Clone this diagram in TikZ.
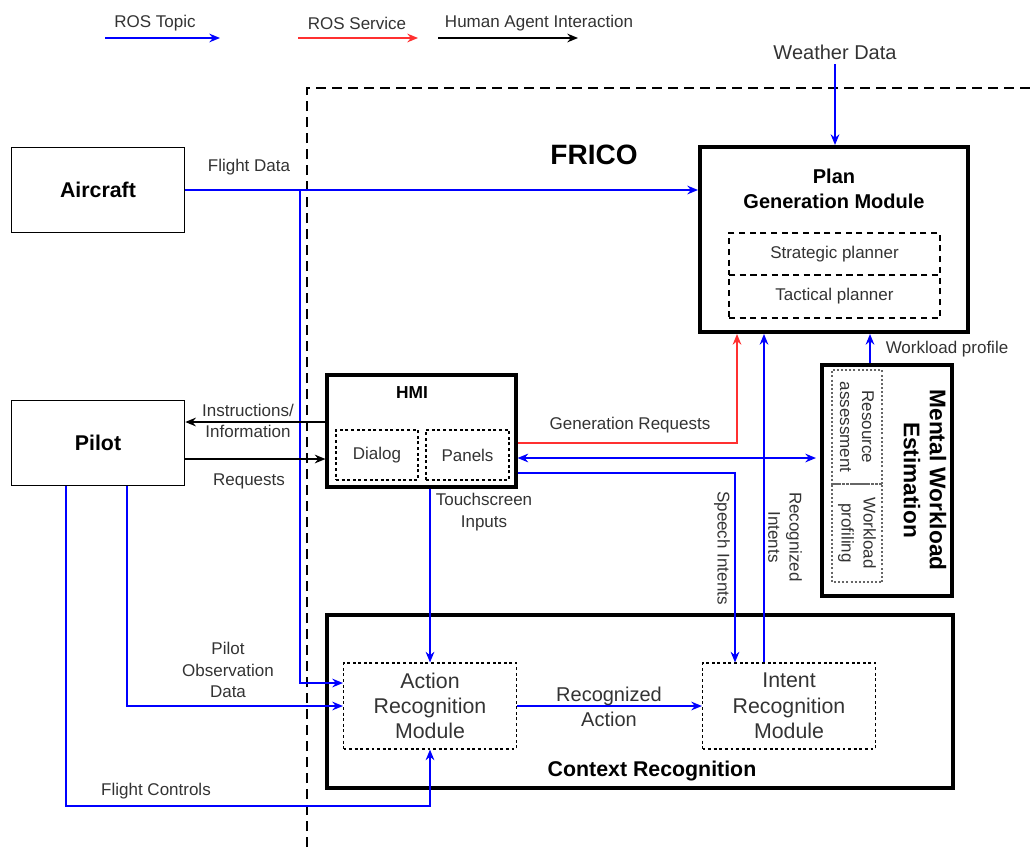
\documentclass[tikz,border=0pt]{standalone}
\usepackage{fontspec}
\setmainfont{Liberation Sans}
\usetikzlibrary{arrows.meta}
\definecolor{ink}{HTML}{333333}
\definecolor{topicblue}{HTML}{0000FF}
\definecolor{servicered}{HTML}{FF3030}

\begin{document}
\begin{tikzpicture}[x=0.75pt, y=-0.75pt, >={Stealth[length=8pt,width=6.5pt]},
    topic/.style={->, draw=topicblue, line width=1.5pt},
    service/.style={->, draw=servicered, line width=1.5pt},
    hai/.style={->, draw=black, line width=1.4pt},
    sz/.style 2 args={minimum width=#1*0.75pt, minimum height=#2*0.75pt, inner sep=0pt},
    box/.style={draw, line width=1.1pt},
    bigbox/.style={draw, line width=3pt},
    dashbox/.style={draw, line width=0.9pt, dash pattern=on 4.5pt off 3.5pt},
    finebox/.style={draw, line width=0.8pt, dash pattern=on 2.2pt off 2pt},
    dotbox/.style={draw=black!60, line width=1.5pt, dash pattern=on 1.5pt off 1.6pt},
    lbl/.style={font=\fontsize{12.75}{16}\selectfont, text=ink, align=center},
    modlbl/.style={font=\fontsize{16}{19}\selectfont, text=ink, align=center},
    title/.style={font=\fontsize{16}{19}\selectfont\bfseries, align=center},
]
    \useasboundingbox (0,0) rectangle (1031,847);

    % Legenda
    \node[lbl] (lgtopic) at (155,23) {ROS Topic};
    \node[lbl] (lgservice) at (357,23) {ROS Service};
    \node[lbl] (lghai) at (539,23) {Human Agent Interaction};
    \coordinate (lt1) at (105,38); \coordinate (lt2) at (220,38);
    \coordinate (ls1) at (298,38); \coordinate (ls2) at (418,38);
    \coordinate (lh1) at (438,38); \coordinate (lh2) at (578,38);
    \draw[topic] (lt1) -- (lt2);
    \draw[service] (ls1) -- (ls2);
    \draw[hai] (lh1) -- (lh2);

    % Confine FRICO (tratteggio)
    \draw[black, line width=1.1pt, dash pattern=on 7.5pt off 4.5pt] (307,847) |- (1031,88);
    \node[font=\fontsize{21}{25}\selectfont\bfseries] (frico) at (594,155) {FRICO};

    % Blocchi esterni
    \node[box, sz={173}{85}, title] (aircraft) at (98,190) {Aircraft};
    \node[box, sz={173}{85}, title] (pilot) at (98,443) {Pilot};
    \node[font=\fontsize{15}{18}\selectfont, text=ink] (weather) at (835,52) {Weather Data};

    % Plan Generation Module
    \node[bigbox, sz={268}{185}] (plan) at (834,239.5) {};
    \node[font=\fontsize{15}{18.75}\selectfont\bfseries, align=center] (plantitle) at (834,188.5) {Plan\\Generation Module};
    \node[dashbox, sz={211}{42}, lbl] (strategic) at (834.5,254) {Strategic planner};
    \node[dashbox, sz={211}{43}, lbl] (tactical) at (834.5,296.5) {Tactical planner};

    % HMI
    \node[draw, line width=2.3pt, sz={189}{112}] (hmi) at (421.5,431) {};
    \node[font=\fontsize{13}{16}\selectfont\bfseries] (hmititle) at (412,393) {HMI};
    \node[finebox, sz={82}{50}, lbl] (dialog) at (377,455) {Dialog};
    \node[finebox, sz={83}{50}, lbl] (panels) at (467.5,455) {Panels};

    % Mental Workload Estimation
    \node[bigbox, sz={130}{231}] (mwe) at (887,480.5) {};
    \node[rotate=-90, font=\fontsize{17}{19.5}\selectfont\bfseries, align=center] (mwetitle) at (925,480) {Mental Workload\\Estimation};
    \node[dotbox, rotate=-90, sz={114}{50}, font=\fontsize{12.75}{16.5}\selectfont, text=ink, align=center] (resource) at (857,427) {Resource\\assessment};
    \node[dotbox, rotate=-90, sz={98}{50}, font=\fontsize{12.75}{16.5}\selectfont, text=ink, align=center] (profiling) at (857,533) {Workload\\profiling};

    % Context Recognition
    \node[bigbox, sz={626}{173}] (context) at (640,701.5) {};
    \node[title] (ctxtitle) at (652,771) {Context Recognition};
    \node[finebox, sz={173}{86}, modlbl] (action) at (430,706) {Action\\Recognition\\Module};
    \node[finebox, sz={173}{86}, modlbl] (intent) at (789,706) {Intent\\Recognition\\Module};

    % Flight Data
    \draw[topic] (aircraft.east) -- (aircraft.east -| plan.west);
    \coordinate (fdsplit) at (300,190);
    \coordinate (fdin) at ([yshift=17.25pt]action.west);
    \draw[topic] (fdsplit) |- (fdin);
    \node[lbl] (lblfd) at (249,167) {Flight Data};

    % Weather Data
    \draw[topic] (weather) -- (weather |- plan.north);

    % Pilot <-> HMI
    \coordinate (instr) at ([yshift=6.75pt]hmi.west);
    \coordinate (reqs) at ([yshift=-21pt]hmi.west);
    \draw[hai] (instr) -- (instr -| pilot.east);
    \draw[hai] (reqs -| pilot.east) -- (reqs);
    \node[lbl] (lblinstr) at (248,421) {Instructions/\\Information};
    \node[lbl] (lblreq) at (249,481) {Requests};

    % HMI -> Plan, MWE, Intent
    \coordinate (genout) at ([yshift=-9pt]hmi.east);
    \coordinate (genin) at ([xshift=-72.75pt]plan.south);
    \draw[service] (genout) -| (genin);
    \node[lbl] (lblgen) at (630,425) {Generation Requests};
    \coordinate (mweline) at ([yshift=-20.25pt]hmi.east);
    \draw[topic, <->, shorten >=3pt] (mweline) -- (mweline -| mwe.west);
    \coordinate (speechout) at ([yshift=-31.5pt]hmi.east);
    \coordinate (speechin) at ([xshift=-40.5pt]intent.north);
    \draw[topic] (speechout) -| (speechin);
    \node[lbl, rotate=-90] (lblspeech) at (722,548) {Speech Intents};

    % Intent -> Plan
    \coordinate (riout) at ([xshift=-18.75pt]intent.north);
    \draw[topic] (riout) -- (riout |- plan.south);
    \node[lbl, rotate=-90] (lblri) at (785,537) {Recognized\\Intents};

    % MWE -> Plan
    \coordinate (wpout) at ([xshift=-12.75pt]mwe.north);
    \draw[topic] (wpout) -- (wpout |- plan.south);
    \node[lbl] (lblwp) at (947,349) {Workload profile};

    % HMI -> Action
    \draw[topic] (action.north |- hmi.south) -- (action.north);
    \node[lbl] (lblts) at (484,512) {Touchscreen\\Inputs};

    % Pilot -> Action
    \coordinate (obsout) at ([xshift=21.75pt]pilot.south);
    \draw[topic] (obsout) |- (action.west);
    \node[lbl] (lblobs) at (228,670) {Pilot\\Observation\\Data};
    \coordinate (fcout) at ([xshift=-24pt]pilot.south);
    \coordinate (fcturn) at (430,806);
    \draw[topic] (fcout) |- (fcturn) -- (action.south);
    \node[lbl] (lblfc) at (156,791) {Flight Controls};

    % Action -> Intent
    \draw[topic] (action.east) -- (intent.west);
    \node[font=\fontsize{15}{18.75}\selectfont, text=ink, align=center] (lblra) at (609,707) {Recognized\\Action};
\end{tikzpicture}
\end{document}
